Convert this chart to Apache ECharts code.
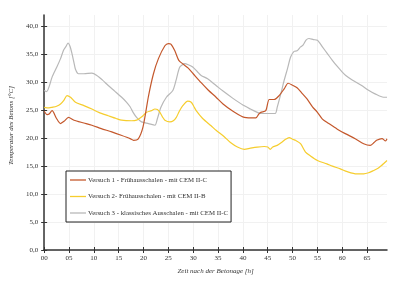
<!DOCTYPE html>
<html><head><meta charset="utf-8">
<script src="https://cdn.jsdelivr.net/npm/echarts@6/dist/echarts.min.js"></script>
<style>html,body{margin:0;padding:0;background:#fff}#c{width:400px;height:284px}</style>
</head><body><div id="c"></div>
<script>
const seriesNames = [
  'Versuch 1 - Frühausschalen - mit CEM II-C',
  'Versuch 2- Frühausschalen - mit CEM II-B',
  'Versuch 3 - klassisches Ausschalen - mit CEM II-C'
];
const xTicks = [0,5,10,15,20,25,30,35,40,45,50,55,60,65];
const yTicks = [0,5,10,15,20,25,30,35,40];

const hours1 = [0,0.6,1,1.6,2.5,3.3,4,4.9,6,8,9.6,11.5,13.6,15.5,17.3,18,18.9,19.9,21,22,23,24.3,25,25.5,26.3,27.1,28,29,30,31.6,33,34.6,36,38,40.3,42.6,43.2,43.6,44.6,45.3,46.3,47.3,48.3,49.1,49.9,50.9,51.9,52.9,54,55,56,57.3,59,60.6,62.6,64.3,65.6,66.4,66.9,68,68.7,69];
const temp1 = [24.8,24.2,24.3,24.9,23.5,22.6,23.0,23.7,23.2,22.7,22.3,21.7,21.1,20.5,19.9,19.6,19.8,22.0,27.5,31.5,34.2,36.5,36.9,36.8,35.6,33.9,33.2,32.5,31.5,29.9,28.6,27.3,26.1,24.8,23.7,23.6,24.3,24.6,24.9,26.9,26.9,27.6,28.8,29.8,29.5,29.0,28.0,27.0,25.6,24.6,23.4,22.6,21.6,20.8,19.9,19.0,18.7,19.2,19.6,19.9,19.5,19.9];

const hours2 = [0,1,1.6,2.5,3.3,4,4.6,5.3,6.3,8,9.6,11,12.9,14.5,15.6,17.6,18.6,19.3,19.9,20.6,21.6,22.3,22.8,23.3,23.8,24.3,25.3,26,26.6,27.2,27.9,28.9,29.6,30.1,30.6,31.9,33.6,34.6,36.3,37.5,38.9,40.3,41.5,42.9,44.3,45,45.5,46,46.9,47.9,48.6,49.3,50,50.6,51.6,52.6,53.6,55,56.9,58,59.6,61,62.9,64.3,65.3,66.3,67.2,67.9,68.5,69];
const temp2 = [25.5,25.4,25.5,25.7,26.1,26.8,27.6,27.3,26.4,25.8,25.2,24.6,24.0,23.5,23.2,23.1,23.2,23.6,24.0,24.6,24.9,25.2,25.1,24.6,23.8,23.2,22.9,23.1,23.7,24.8,25.8,26.6,26.4,25.7,24.9,23.5,22.2,21.4,20.2,19.2,18.4,18.0,18.2,18.4,18.5,18.4,18.0,18.4,18.7,19.3,19.8,20.1,19.8,19.6,19.0,17.5,16.8,16.0,15.4,15.0,14.5,14.0,13.6,13.6,13.8,14.2,14.6,15.1,15.6,16.0];

const hours3 = [0,0.5,1,1.6,2.5,3.3,3.9,4.4,4.8,5.2,5.6,6,6.3,6.9,8,9.6,10.6,11.7,12.9,14.2,15.6,16.6,17.3,17.9,18.6,19.6,21,22.3,22.8,23.5,24.6,25.9,26.6,27.3,28.3,29,29.9,30.8,31.6,32.9,34.6,36,38,40,41.5,42.9,43.5,46.5,46.9,47.6,48.3,49,49.6,50.3,50.9,51.6,52.1,52.7,53.3,54.2,55,56,57,58,59,60,60.7,62,63.9,65.2,66.6,68.3,69];
const temp3 = [28.5,28.3,29.2,30.9,32.6,34.2,35.7,36.4,37.0,36.4,35.1,33.5,32.3,31.5,31.5,31.6,31.2,30.4,29.4,28.4,27.3,26.4,25.6,24.6,23.7,22.9,22.6,22.3,23.5,25.5,27.3,28.5,30.5,32.7,33.3,33.1,32.7,31.9,31.2,30.6,29.4,28.4,27.1,25.9,25.2,24.6,24.4,24.4,25.5,27.8,30.3,32.5,34.5,35.5,35.6,36.3,36.6,37.5,37.8,37.6,37.5,36.3,35.1,33.9,32.8,31.8,31.2,30.4,29.4,28.6,27.9,27.3,27.3];

const colors = ['#c4582c', '#f6cd2e', '#b8b8b8'];
const pair = (h, t) => h.map((x, i) => [x, t[i]]);
const FONT = 'Liberation Serif';

const chart = echarts.init(document.getElementById('c'), null, {renderer: 'canvas'});
const axisLineStyle = {color: '#333', width: 1.5};
chart.setOption({
  animation: false,
  backgroundColor: '#fff',
  grid: {left: 42, right: 13, top: 15, bottom: 34},
  xAxis: [{
    type: 'value', min: 0, max: 69,
    name: 'Zeit nach der Betonage [h]', nameLocation: 'middle', nameGap: 18,
    nameTextStyle: {fontFamily: FONT, fontStyle: 'italic', fontSize: 7, color: '#333'},
    axisLine: {lineStyle: axisLineStyle},
    axisTick: {show: true, length: 3, customValues: xTicks, lineStyle: {color: '#333'}},
    axisLabel: {customValues: xTicks, fontFamily: FONT, fontSize: 7, color: '#333', margin: 5,
      formatter: v => String(v).padStart(2, '0')},
    splitLine: {show: true, lineStyle: {color: '#f1f1f1', width: 1}}
  }, {
    type: 'value', min: 0, max: 69, position: 'bottom',
    axisLine: {show: false},
    axisTick: {show: true, inside: true, length: 3, customValues: xTicks, lineStyle: {color: '#333'}},
    axisLabel: {show: false}, splitLine: {show: false}
  }],
  yAxis: [{
    type: 'value', min: 0, max: 42,
    name: 'Temperatur des Betons [°C]', nameLocation: 'middle', nameGap: 28, nameRotate: 90,
    nameTextStyle: {fontFamily: FONT, fontStyle: 'italic', fontSize: 7, color: '#333', padding: [0, 0, 0, 14]},
    axisLine: {show: true, lineStyle: axisLineStyle},
    axisTick: {show: true, length: 3, customValues: yTicks, lineStyle: {color: '#333'}},
    axisLabel: {customValues: yTicks, fontFamily: FONT, fontSize: 7, color: '#333', margin: 6,
      formatter: v => v.toFixed(1).replace('.', ',')},
    splitLine: {show: true, lineStyle: {color: '#f1f1f1', width: 1}}
  }, {
    type: 'value', min: 0, max: 42, position: 'left',
    axisLine: {show: false},
    axisTick: {show: true, inside: true, length: 3, customValues: yTicks, lineStyle: {color: '#333'}},
    axisLabel: {show: false}, splitLine: {show: false}
  }],
  legend: {
    orient: 'vertical', left: 66, top: 171, icon: 'rect',
    backgroundColor: '#fff', borderColor: '#222', borderWidth: 1,
    padding: [5, 3, 5, 4], itemGap: 8.5, itemWidth: 16, itemHeight: 1.3,
    textStyle: {fontFamily: FONT, fontSize: 6.8, color: '#333', lineHeight: 8, padding: [0, 0, 0, -3]},
    data: seriesNames
  },
  series: [
    {name: seriesNames[0], type: 'line', data: pair(hours1, temp1), smooth: 0.25, symbol: 'none', z: 3,
     lineStyle: {color: colors[0], width: 1.2}, itemStyle: {color: colors[0]}},
    {name: seriesNames[1], type: 'line', data: pair(hours2, temp2), smooth: 0.25, symbol: 'none', z: 2,
     lineStyle: {color: colors[1], width: 1.2}, itemStyle: {color: colors[1]}},
    {name: seriesNames[2], type: 'line', data: pair(hours3, temp3), smooth: 0.25, symbol: 'none', z: 1,
     lineStyle: {color: colors[2], width: 1.2}, itemStyle: {color: colors[2]}}
  ]
});
</script>
</body></html>
